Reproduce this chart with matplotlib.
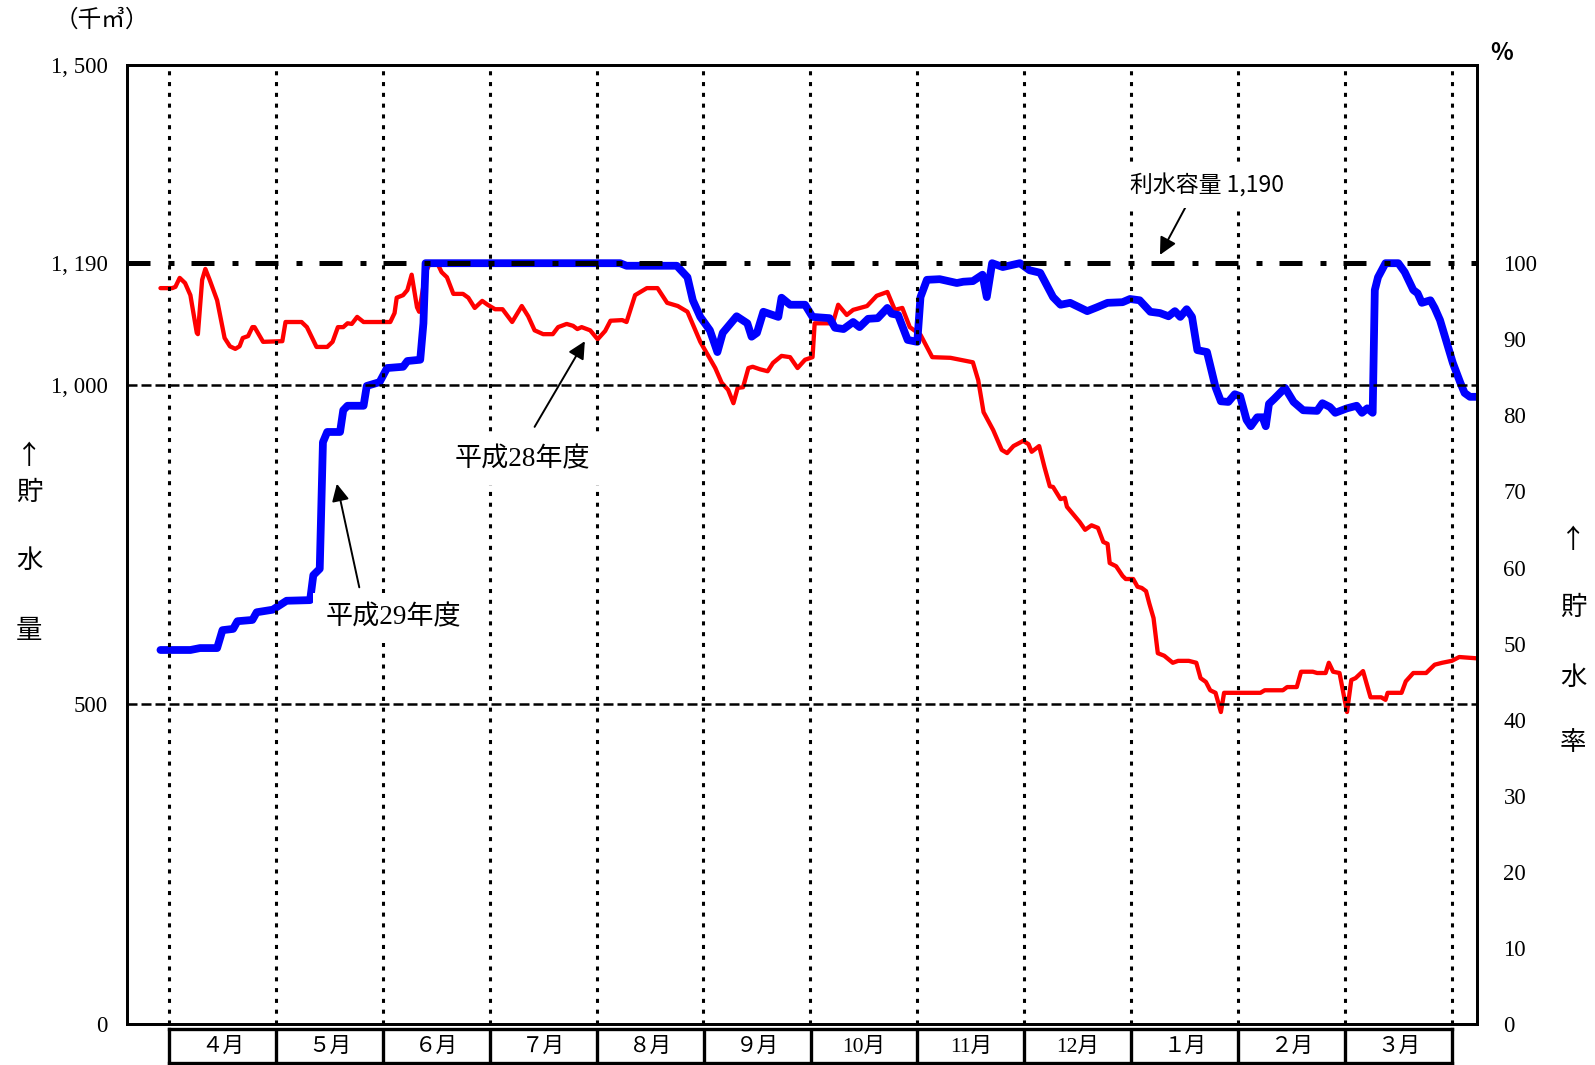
import numpy as np
import matplotlib.pyplot as plt

plt.rcParams['font.family'] = ['Noto Sans CJK JP', 'DejaVu Sans']
SERIF = ['Liberation Serif', 'Noto Sans CJK JP']

# =========================
# Data (x = months since 1 April, y = storage in 千m3)
# =========================
CAPACITY = 1190

MONTHS = ['４月', '５月', '６月', '７月', '８月', '９月',
          '10月', '11月', '12月', '１月', '２月', '３月']

LEFT_TICKS = [0, 500, 1000, 1190, 1500]
RIGHT_TICKS = list(range(0, 101, 10))

# 平成29年度
H29_POS = [-0.08, 0.20, 0.29, 0.45, 0.50, 0.60, 0.64, 0.78, 0.82, 0.97,
           1.10, 1.32, 1.35, 1.41, 1.44, 1.48, 1.60, 1.63, 1.67, 1.82,
           1.85, 1.97, 2.04, 2.19, 2.23, 2.35, 2.38, 2.40, 4.22, 4.28,
           4.75, 4.85, 4.90, 4.97, 5.06, 5.13, 5.18, 5.31, 5.41, 5.45,
           5.50, 5.56, 5.70, 5.73, 5.81, 5.95, 6.02, 6.18, 6.23, 6.31,
           6.40, 6.46, 6.54, 6.63, 6.72, 6.76, 6.82, 6.91, 7.00, 7.03,
           7.09, 7.21, 7.37, 7.43, 7.52, 7.61, 7.65, 7.70, 7.80, 7.96,
           8.05, 8.15, 8.27, 8.34, 8.43, 8.59, 8.68, 8.78, 8.92, 8.99,
           9.08, 9.18, 9.27, 9.35, 9.41, 9.46, 9.52, 9.57, 9.62, 9.71,
           9.79, 9.84, 9.91, 9.97, 10.02, 10.08, 10.12, 10.18, 10.23, 10.26,
           10.29, 10.34, 10.44, 10.52, 10.61, 10.74, 10.79, 10.86, 10.91, 11.02,
           11.11, 11.16, 11.21, 11.26, 11.28, 11.31, 11.38, 11.50, 11.56, 11.64,
           11.68, 11.72, 11.80, 11.84, 11.89, 11.96, 12.01, 12.08, 12.12, 12.17,
           12.23]
H29_VOL = [585, 585, 588, 588, 616, 618, 630, 632, 644, 648,
           662, 663, 702, 712, 910, 926, 926, 960, 967, 967,
           998, 1004, 1026, 1028, 1037, 1039, 1096, 1190, 1190, 1186,
           1186, 1168, 1132, 1106, 1085, 1051, 1081, 1107, 1096, 1075,
           1081, 1114, 1106, 1136, 1125, 1125, 1106, 1104, 1089, 1087,
           1098, 1090, 1103, 1104, 1120, 1111, 1109, 1070, 1067, 1137,
           1164, 1165, 1159, 1161, 1162, 1172, 1137, 1190, 1184, 1190,
           1179, 1175, 1137, 1125, 1128, 1115, 1121, 1128, 1129, 1134,
           1132, 1114, 1112, 1107, 1115, 1106, 1118, 1106, 1054, 1051,
           996, 974, 973, 985, 982, 945, 935, 949, 949, 935,
           970, 978, 995, 973, 960, 959, 971, 965, 956, 963,
           967, 956, 963, 956, 1148, 1168, 1190, 1190, 1176, 1148,
           1143, 1128, 1132, 1120, 1101, 1062, 1034, 1003, 987, 981,
           981]

# 平成28年度
H28_POS = [-0.08, 0.03, 0.06, 0.10, 0.15, 0.20, 0.26, 0.27, 0.31, 0.34,
           0.38, 0.45, 0.52, 0.57, 0.62, 0.66, 0.69, 0.74, 0.78, 0.80,
           0.88, 1.06, 1.09, 1.24, 1.29, 1.38, 1.48, 1.53, 1.58, 1.63,
           1.67, 1.71, 1.76, 1.82, 2.07, 2.11, 2.13, 2.19, 2.23, 2.27,
           2.32, 2.34, 2.40, 2.44, 2.51, 2.55, 2.60, 2.66, 2.75, 2.80,
           2.86, 2.93, 2.98, 3.05, 3.12, 3.21, 3.30, 3.36, 3.42, 3.50,
           3.59, 3.64, 3.72, 3.78, 3.82, 3.86, 3.94, 4.01, 4.08, 4.13,
           4.24, 4.28, 4.36, 4.47, 4.57, 4.66, 4.76, 4.85, 4.97, 5.11,
           5.17, 5.23, 5.28, 5.32, 5.37, 5.42, 5.46, 5.53, 5.60, 5.65,
           5.73, 5.81, 5.88, 5.95, 6.02, 6.04, 6.21, 6.26, 6.34, 6.40,
           6.53, 6.62, 6.72, 6.79, 6.86, 6.93, 7.03, 7.14, 7.31, 7.52,
           7.57, 7.62, 7.71, 7.79, 7.84, 7.90, 7.99, 8.04, 8.07, 8.14,
           8.19, 8.24, 8.27, 8.34, 8.38, 8.40, 8.48, 8.52, 8.57, 8.63,
           8.69, 8.74, 8.78, 8.80, 8.86, 8.92, 8.95, 9.02, 9.06, 9.10,
           9.14, 9.17, 9.21, 9.25, 9.31, 9.39, 9.44, 9.54, 9.61, 9.65,
           9.70, 9.74, 9.79, 9.84, 9.87, 9.91, 10.21, 10.25, 10.42, 10.46,
           10.55, 10.59, 10.70, 10.74, 10.82, 10.85, 10.89, 10.95, 11.02, 11.06,
           11.10, 11.17, 11.24, 11.34, 11.38, 11.40, 11.53, 11.57, 11.64, 11.76,
           11.84, 11.91, 12.00, 12.07, 12.23]
H28_VOL = [1151, 1151, 1153, 1167, 1159, 1140, 1081, 1079, 1164, 1181,
           1164, 1132, 1073, 1060, 1056, 1060, 1073, 1076, 1090, 1090,
           1067, 1068, 1098, 1098, 1090, 1059, 1059, 1067, 1090, 1090,
           1096, 1095, 1106, 1098, 1098, 1112, 1136, 1140, 1148, 1172,
           1121, 1114, 1175, 1190, 1190, 1176, 1168, 1142, 1142, 1136,
           1120, 1131, 1125, 1118, 1118, 1098, 1123, 1107, 1085, 1079,
           1079, 1090, 1095, 1092, 1087, 1090, 1085, 1071, 1084, 1100,
           1101, 1098, 1140, 1151, 1151, 1128, 1123, 1114, 1067, 1026,
           1003, 992, 971, 995, 996, 1026, 1028, 1024, 1021, 1034,
           1045, 1043, 1026, 1039, 1043, 1096, 1096, 1125, 1109, 1117,
           1123, 1139, 1145, 1117, 1120, 1090, 1078, 1043, 1042, 1035,
           1007, 957, 929, 898, 893, 904, 912, 907, 895, 904,
           871, 841, 840, 821, 823, 809, 793, 785, 773, 780,
           776, 754, 751, 721, 716, 701, 696, 696, 684, 682,
           677, 658, 635, 580, 576, 565, 568, 568, 565, 541,
           535, 522, 518, 488, 518, 518, 518, 522, 522, 527,
           527, 551, 551, 549, 549, 565, 551, 549, 488, 538,
           541, 552, 511, 511, 507, 518, 518, 536, 549, 549,
           562, 565, 568, 574, 572]

# =========================
# Figure
# =========================
W, H = 1595, 1065
fig = plt.figure(figsize=(W / 100, H / 100), dpi=100)


def fx(px):
    return px / W


def fy(py):
    return 1 - py / H


ax = fig.add_axes([fx(127), fy(1024), fx(1477) - fx(127), fy(65) - fy(1024)])
ax.set_xlim(-0.393, 12.236)
ax.set_ylim(0, 1500)

# 線
ax.plot(H28_POS, H28_VOL, color='#ff0000', lw=3.1, zorder=2,
        solid_joinstyle='round', solid_capstyle='round')
ax.plot(H29_POS, H29_VOL, color='#0000ff', lw=5.6, zorder=2.5,
        solid_joinstyle='round', solid_capstyle='round')

# 月の区切り（点線）
for m in range(len(MONTHS) + 1):
    ax.axvline(m, color='black', lw=2.2, dashes=(1.33, 2.2), zorder=3)

# 1000, 500 の破線
for v in (1000, 500):
    ax.axhline(v, color='black', lw=1.8, dashes=(4.0, 1.6), zorder=3)

# 利水容量（一点鎖線）
ax.axhline(CAPACITY, color='black', lw=3.6, dashes=(4.6, 3.6, 1.2, 3.4), zorder=4)

ax.set_xticks([])
ax.set_yticks(LEFT_TICKS)
ax.set_yticklabels([f"{v:,}".replace(",", ", ") for v in LEFT_TICKS],
                   family=SERIF, fontsize=16.5)
ax.tick_params(axis='y', length=0, pad=14)
for s in ax.spines.values():
    s.set_linewidth(2.0)

ax_r = ax.twinx()
ax_r.set_ylim(0, 1500 / CAPACITY * 100)
ax_r.set_yticks(RIGHT_TICKS)
ax_r.set_yticklabels([str(v) for v in RIGHT_TICKS], family=SERIF, fontsize=16.5)
ax_r.tick_params(axis='y', length=0, pad=19)
for s in ax_r.spines.values():
    s.set_linewidth(2.0)

# 注記（白抜きの文字枠）
arrow = dict(arrowstyle='-|>', mutation_scale=26, lw=1.4, color='black',
             shrinkA=0, shrinkB=0)
box = dict(boxstyle='square,pad=0.45', fc='white', ec='none')

ax.annotate('', xy=(9.27, 1203), xytext=(9.52, 1281), arrowprops=arrow, zorder=5)
ax.text(9.71, 1312, '利水容量 1,190', ha='center', va='center', fontsize=16.5,
        bbox=box, zorder=6)

ax.annotate('', xy=(3.89, 1068), xytext=(3.42, 934), arrowprops=arrow, zorder=5)
ax.text(3.31, 882, '平成28年度', ha='center', va='center', fontsize=19.5,
        family=SERIF, bbox=box, zorder=6)

ax.annotate('', xy=(1.57, 845), xytext=(1.78, 683), arrowprops=arrow, zorder=5)
ax.text(2.10, 635, '平成29年度', ha='center', va='center', fontsize=19.5,
        family=SERIF, bbox=box, zorder=6)

# 月の枠
axm = fig.add_axes([fx(169), fy(1063), fx(1452) - fx(169), fy(1029) - fy(1063)])
axm.set_xlim(0, len(MONTHS))
axm.set_ylim(0, 1)
axm.set_xticks([])
axm.set_yticks([])
for s in axm.spines.values():
    s.set_linewidth(2.4)
for i, name in enumerate(MONTHS):
    if i > 0:
        axm.axvline(i, color='black', lw=2.4)
    axm.text(i + 0.5, 0.45, name, ha='center', va='center', fontsize=15.5, family=SERIF)

# 軸ラベル
fig.text(fx(102), fy(20), '（千㎥）', ha='center', va='center', fontsize=17)
fig.text(fx(1502), fy(53), '%', ha='center', va='center', fontsize=17, fontweight='bold')

for ch, py in zip(['↑', '貯', '水', '量'], [457, 492, 560, 630]):
    fig.text(fx(29), fy(py), ch, ha='center', va='center', fontsize=19)
for ch, py in zip(['↑', '貯', '水', '率'], [540, 607, 677, 742]):
    fig.text(fx(1573), fy(py), ch, ha='center', va='center', fontsize=19)

fig.savefig('out.png', dpi=100)
